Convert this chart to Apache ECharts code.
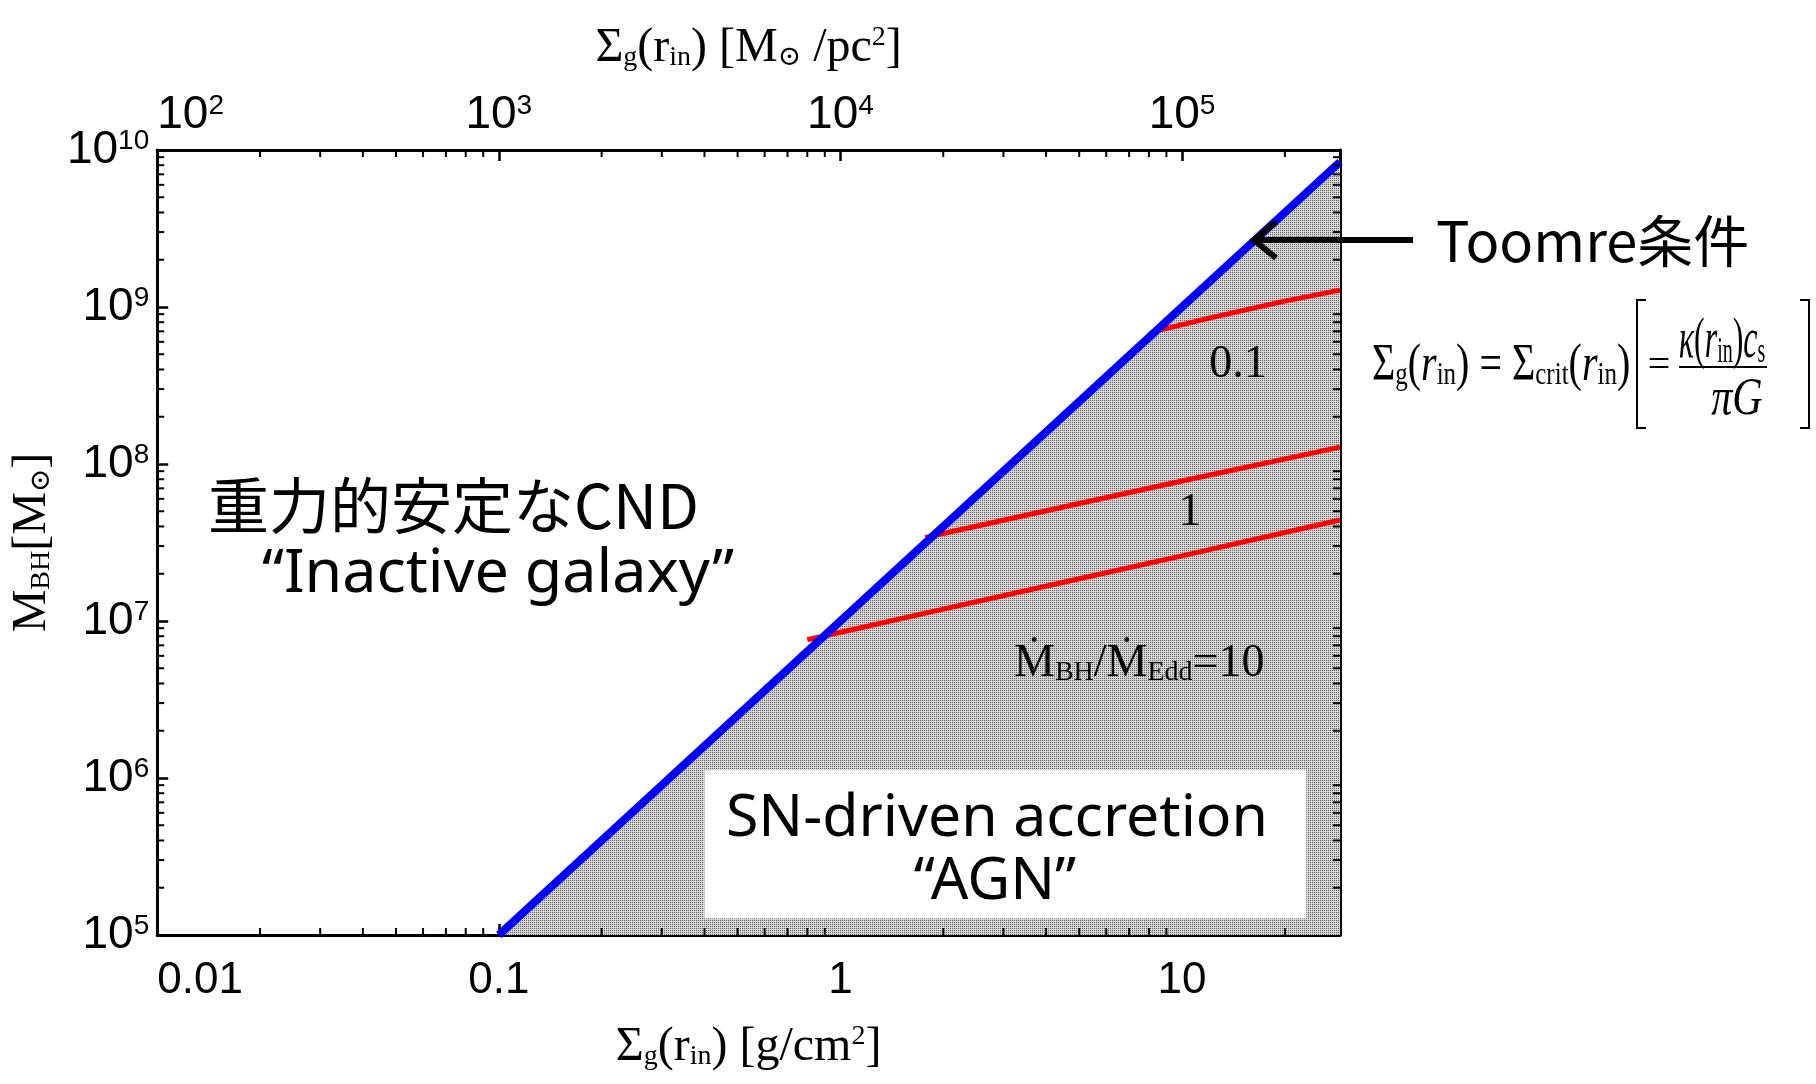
<!DOCTYPE html>
<html>
<head>
<meta charset="utf-8">
<script src="https://cdn.jsdelivr.net/npm/echarts@6/dist/echarts.min.js"></script>
<style>
  html, body { margin: 0; padding: 0; background: #ffffff; }
  #chart { width: 1816px; height: 1084px; }
</style>
</head>
<body>
<div id="chart"></div>
<script>
// Gas surface density at r_in, Σg [g/cm²]  vs  black-hole mass M_BH [M☉]

// Toomre critical line: Σg(r_in) = Σcrit(r_in)
const toomreLine = [[0.1, 1e5], [1, 1e7], [10, 1e9], [29, 8.4e9]];

// SN-driven accretion tracks for several Eddington ratios
const eddRatio01 = [[8.3, 7.0e8], [12, 8.5e8], [20, 1.09e9], [29, 1.28e9]];
const eddRatio1  = [[1.77, 3.4e7], [5, 5.6e7], [10, 7.8e7], [29, 1.28e8]];
const eddRatio10 = [[0.8, 7.6e6], [2, 1.19e7], [5, 1.86e7], [10, 2.6e7], [29, 4.4e7]];

// Tick labels
const xTickLabels = { '-2': '0.01', '-1': '0.1', '0': '1', '1': '10' };
const topTickExponents = ['2', '3', '4', '5'];
const yTickExponents = ['5', '6', '7', '8', '9', '10'];

// Minor tick positions (2..9 within each decade)
const xMinorTicks = [0.02, 0.03, 0.04, 0.05, 0.06, 0.07, 0.08, 0.09,
                     0.2, 0.3, 0.4, 0.5, 0.6, 0.7, 0.8, 0.9,
                     2, 3, 4, 5, 6, 7, 8, 9, 20];
const yMinorTicks = [2e5, 3e5, 4e5, 5e5, 6e5, 7e5, 8e5, 9e5,
                     2e6, 3e6, 4e6, 5e6, 6e6, 7e6, 8e6, 9e6,
                     2e7, 3e7, 4e7, 5e7, 6e7, 7e7, 8e7, 9e7,
                     2e8, 3e8, 4e8, 5e8, 6e8, 7e8, 8e8, 9e8,
                     2e9, 3e9, 4e9, 5e9, 6e9, 7e9, 8e9, 9e9];

// Lower-left / upper-right corners of the "AGN" caption box (data units)
const agnBox = [0.40, 1.28e5, 23.1, 1.12e6];

const X_MIN = 0.01, X_MAX = 29;
const Y_MIN = 1e5, Y_MAX = 1e10;

const SERIF = '"Liberation Serif", "DejaVu Serif", "Times New Roman", serif';
const SANS = '"Liberation Sans", Arial, sans-serif';
const NARROW = '"Liberation Sans Narrow", "Liberation Sans", Arial, sans-serif';
const ROUND = '"Noto Sans", "Noto Sans CJK JP", sans-serif';
const CJK = '"Noto Sans CJK JP", "Noto Sans", sans-serif';

// Stippled grey fill for the unstable region
function stipple() {
  const c = document.createElement('canvas');
  c.width = 2; c.height = 2;
  const g = c.getContext('2d');
  g.fillStyle = '#d4d4d4'; g.fillRect(0, 0, 2, 2);
  g.fillStyle = '#646464'; g.fillRect(0, 0, 1, 1);
  return c;
}

function isDecade(v) {
  const l = Math.log10(v);
  return Math.abs(l - Math.round(l)) < 1e-6;
}

function minorTickRenderer(dir) {
  return function (params, api) {
    const cs = params.coordSys;
    const len = 7;
    const st = { stroke: '#000', lineWidth: 2 };
    if (dir === 'x') {
      const x = api.coord([api.value(0), Y_MIN])[0];
      return { type: 'group', children: [
        { type: 'line', shape: { x1: x, y1: cs.y + cs.height, x2: x, y2: cs.y + cs.height - len }, style: st },
        { type: 'line', shape: { x1: x, y1: cs.y, x2: x, y2: cs.y + len }, style: st }
      ] };
    }
    const y = api.coord([X_MIN, api.value(1)])[1];
    return { type: 'group', children: [
      { type: 'line', shape: { x1: cs.x, y1: y, x2: cs.x + len, y2: y }, style: st },
      { type: 'line', shape: { x1: cs.x + cs.width, y1: y, x2: cs.x + cs.width - len, y2: y }, style: st }
    ] };
  };
}

const supRich = {
  b: { fontSize: 46, fontFamily: SANS, color: '#000' },
  s: { fontSize: 28, fontFamily: SANS, color: '#000', verticalAlign: 'top' }
};
const topRich = {
  b: { fontSize: 46, fontFamily: NARROW, color: '#000' },
  s: { fontSize: 28, fontFamily: NARROW, color: '#000', verticalAlign: 'top' }
};
const nameRich = {
  L: { fontSize: 48, fontFamily: SERIF, color: '#000' },
  s: { fontSize: 28, fontFamily: SERIF, color: '#000', verticalAlign: 'bottom' },
  p: { fontSize: 28, fontFamily: SERIF, color: '#000', verticalAlign: 'top' }
};
const formulaRich = {
  L: { fontSize: 40, fontFamily: SERIF, fill: '#000' },
  i: { fontSize: 40, fontFamily: SERIF, fontStyle: 'italic', fill: '#000' },
  s: { fontSize: 25, fontFamily: SERIF, fill: '#000', verticalAlign: 'bottom' }
};

const axisLine = { show: true, lineStyle: { color: '#000', width: 3 } };
const majorTick = { show: true, inside: true, length: 11, lineStyle: { color: '#000', width: 2.5 } };

const chart = echarts.init(document.getElementById('chart'), null, { renderer: 'canvas' });

const option = {
  backgroundColor: '#ffffff',
  animation: false,
  grid: { left: 154, top: 150, width: 1186, height: 785, containLabel: false },
  xAxis: [
    {
      type: 'log', logBase: 10, min: X_MIN, max: X_MAX, position: 'bottom',
      axisLine, axisTick: majorTick, splitLine: { show: false },
      axisLabel: {
        margin: 24, fontSize: 44, fontFamily: NARROW, color: '#000',
        showMaxLabel: false, alignMinLabel: 'left',
        formatter: v => isDecade(v) ? (xTickLabels[String(Math.round(Math.log10(v)))] || '') : ''
      },
      name: '{L|Σ}{s|g}{L|(r}{s|in}{L|) [g/cm}{p|2}{L|]}',
      nameLocation: 'middle', nameGap: 88,
      nameTextStyle: { rich: nameRich }
    },
    {
      type: 'log', logBase: 10, min: 100, max: 290000, position: 'top',
      axisLine, axisTick: majorTick, splitLine: { show: false },
      axisLabel: {
        margin: 12, color: '#000', rich: topRich,
        showMaxLabel: false, alignMinLabel: 'left',
        formatter: v => {
          if (!isDecade(v)) return '';
          const e = String(Math.round(Math.log10(v)));
          return topTickExponents.indexOf(e) >= 0 ? '{b|10}{s|' + e + '}' : '';
        }
      },
      name: '{L|Σ}{s|g}{L|(r}{s|in}{L|) [M}{s|⊙}{L| /pc}{p|2}{L|]}',
      nameLocation: 'middle', nameGap: 78,
      nameTextStyle: { rich: nameRich }
    }
  ],
  yAxis: [
    {
      type: 'log', logBase: 10, min: Y_MIN, max: Y_MAX, position: 'left',
      axisLine, axisTick: majorTick, splitLine: { show: false },
      axisLabel: {
        margin: 8, color: '#000', rich: supRich,
        formatter: v => {
          if (!isDecade(v)) return '';
          const e = String(Math.round(Math.log10(v)));
          return yTickExponents.indexOf(e) >= 0 ? '{b|10}{s|' + e + '}' : '';
        }
      },
      name: '{L|M}{s|BH}{L|[M}{s|⊙}{L|]}',
      nameLocation: 'middle', nameRotate: 90, nameGap: 92,
      nameTextStyle: { rich: nameRich }
    },
    {
      type: 'log', logBase: 10, min: Y_MIN, max: Y_MAX, position: 'right',
      axisLine, axisTick: majorTick, splitLine: { show: false },
      axisLabel: { show: false }
    }
  ],
  series: [
    {
      name: 'unstable region', type: 'line', data: toomreLine, z: 1,
      symbol: 'none', lineStyle: { width: 0, opacity: 0 },
      areaStyle: { origin: 'start', opacity: 1, color: { image: stipple(), repeat: 'repeat' } },
      silent: true
    },
    {
      name: 'AGN box', type: 'custom', z: 2, silent: true,
      data: [agnBox],
      encode: { x: [0, 2], y: [1, 3] },
      renderItem: (params, api) => {
        const p0 = api.coord([api.value(0), api.value(1)]);
        const p1 = api.coord([api.value(2), api.value(3)]);
        return {
          type: 'rect',
          shape: { x: p0[0], y: p1[1], width: p1[0] - p0[0], height: p0[1] - p1[1] },
          style: { fill: '#ffffff' }
        };
      }
    },
    {
      name: 'x minor ticks', type: 'custom', z: 6, silent: true,
      data: xMinorTicks.map(v => [v, Y_MIN]),
      renderItem: minorTickRenderer('x')
    },
    {
      name: 'y minor ticks', type: 'custom', z: 6, silent: true,
      data: yMinorTicks.map(v => [X_MIN, v]),
      renderItem: minorTickRenderer('y')
    },
    { name: 'Edd 0.1', type: 'line', data: eddRatio01, z: 3, symbol: 'none',
      lineStyle: { color: '#ff0000', width: 5 } },
    { name: 'Edd 1', type: 'line', data: eddRatio1, z: 3, symbol: 'none',
      lineStyle: { color: '#ff0000', width: 5 } },
    { name: 'Edd 10', type: 'line', data: eddRatio10, z: 3, symbol: 'none',
      lineStyle: { color: '#ff0000', width: 5 } },
    { name: 'Toomre', type: 'line', data: toomreLine, z: 4, symbol: 'none',
      lineStyle: { color: '#0000ff', width: 8 } }
  ],
  graphic: [
    { type: 'text', x: 208, y: 506, z: 10,
      style: { text: '重力的安定なCND', font: '61px ' + CJK, fill: '#000', align: 'left', verticalAlign: 'middle' } },
    { type: 'text', x: 262, y: 575, z: 10,
      style: { text: '“Inactive galaxy”', font: '61px ' + ROUND, fill: '#000', align: 'left', verticalAlign: 'middle' } },
    { type: 'text', x: 997, y: 819, z: 10,
      style: { text: 'SN-driven accretion', font: '59px ' + ROUND, fill: '#000', align: 'center', verticalAlign: 'middle' } },
    { type: 'text', x: 995, y: 882, z: 10,
      style: { text: '“AGN”', font: '59px ' + ROUND, fill: '#000', align: 'center', verticalAlign: 'middle' } },
    { type: 'text', x: 1436, y: 241, z: 10,
      style: { text: 'Toomre条件', font: '56px ' + CJK, fill: '#000', align: 'left', verticalAlign: 'middle' } },
    { type: 'line', z: 10, shape: { x1: 1413, y1: 240, x2: 1256, y2: 240 },
      style: { stroke: '#000', lineWidth: 6 } },
    { type: 'polyline', z: 10, shape: { points: [[1276, 222], [1254, 240], [1276, 258]] },
      style: { stroke: '#000', lineWidth: 6, fill: null, lineJoin: 'miter' } },
    // Σg(r_in) = Σcrit(r_in) [= κ(r_in) c_s / πG]
    { type: 'text', x: 1372, y: 366, z: 10, scaleY: 1.3,
      style: {
        text: '{L|Σ}{s|g}{L|(}{i|r}{s|in}{L|) = Σ}{s|crit}{L|(}{i|r}{s|in}{L|)}',
        align: 'left', verticalAlign: 'middle', rich: formulaRich
      } },
    { type: 'polyline', z: 10, shape: { points: [[1646, 300], [1637, 300], [1637, 428], [1646, 428]] },
      style: { stroke: '#000', lineWidth: 2, fill: null } },
    { type: 'polyline', z: 10, shape: { points: [[1800, 300], [1809, 300], [1809, 428], [1800, 428]] },
      style: { stroke: '#000', lineWidth: 2, fill: null } },
    { type: 'text', x: 1659, y: 366, z: 10,
      style: { text: '=', font: '40px ' + SERIF, fill: '#000', align: 'center', verticalAlign: 'middle' } },
    { type: 'text', x: 1722, y: 342, z: 10, scaleX: 0.8, scaleY: 1.45,
      style: {
        text: '{i|κ}{L|(}{i|r}{s|in}{L|)}{i|c}{s|s}',
        align: 'center', verticalAlign: 'middle', rich: formulaRich
      } },
    { type: 'line', z: 10, shape: { x1: 1679, y1: 367, x2: 1767, y2: 367 },
      style: { stroke: '#000', lineWidth: 2 } },
    { type: 'text', x: 1737, y: 400, z: 10, scaleY: 1.25,
      style: { text: 'πG', font: 'italic 42px ' + SERIF, fill: '#000', align: 'center', verticalAlign: 'middle' } },
    // Eddington-ratio labels
    { type: 'text', x: 1238, y: 365, z: 10,
      style: { text: '0.1', font: '46px ' + SERIF, fill: '#000', align: 'center', verticalAlign: 'middle' } },
    { type: 'text', x: 1190, y: 513, z: 10,
      style: { text: '1', font: '46px ' + SERIF, fill: '#000', align: 'center', verticalAlign: 'middle' } },
    { type: 'text', x: 1014, y: 664, z: 10,
      style: {
        text: '{L|Ṁ}{s|BH}{L|/Ṁ}{s|Edd}{L|=10}',
        align: 'left', verticalAlign: 'middle',
        rich: {
          L: { fontSize: 46, fontFamily: SERIF, fill: '#000' },
          s: { fontSize: 28, fontFamily: SERIF, fill: '#000', verticalAlign: 'bottom' }
        }
      } }
  ]
};

chart.setOption(option);
</script>
</body>
</html>
